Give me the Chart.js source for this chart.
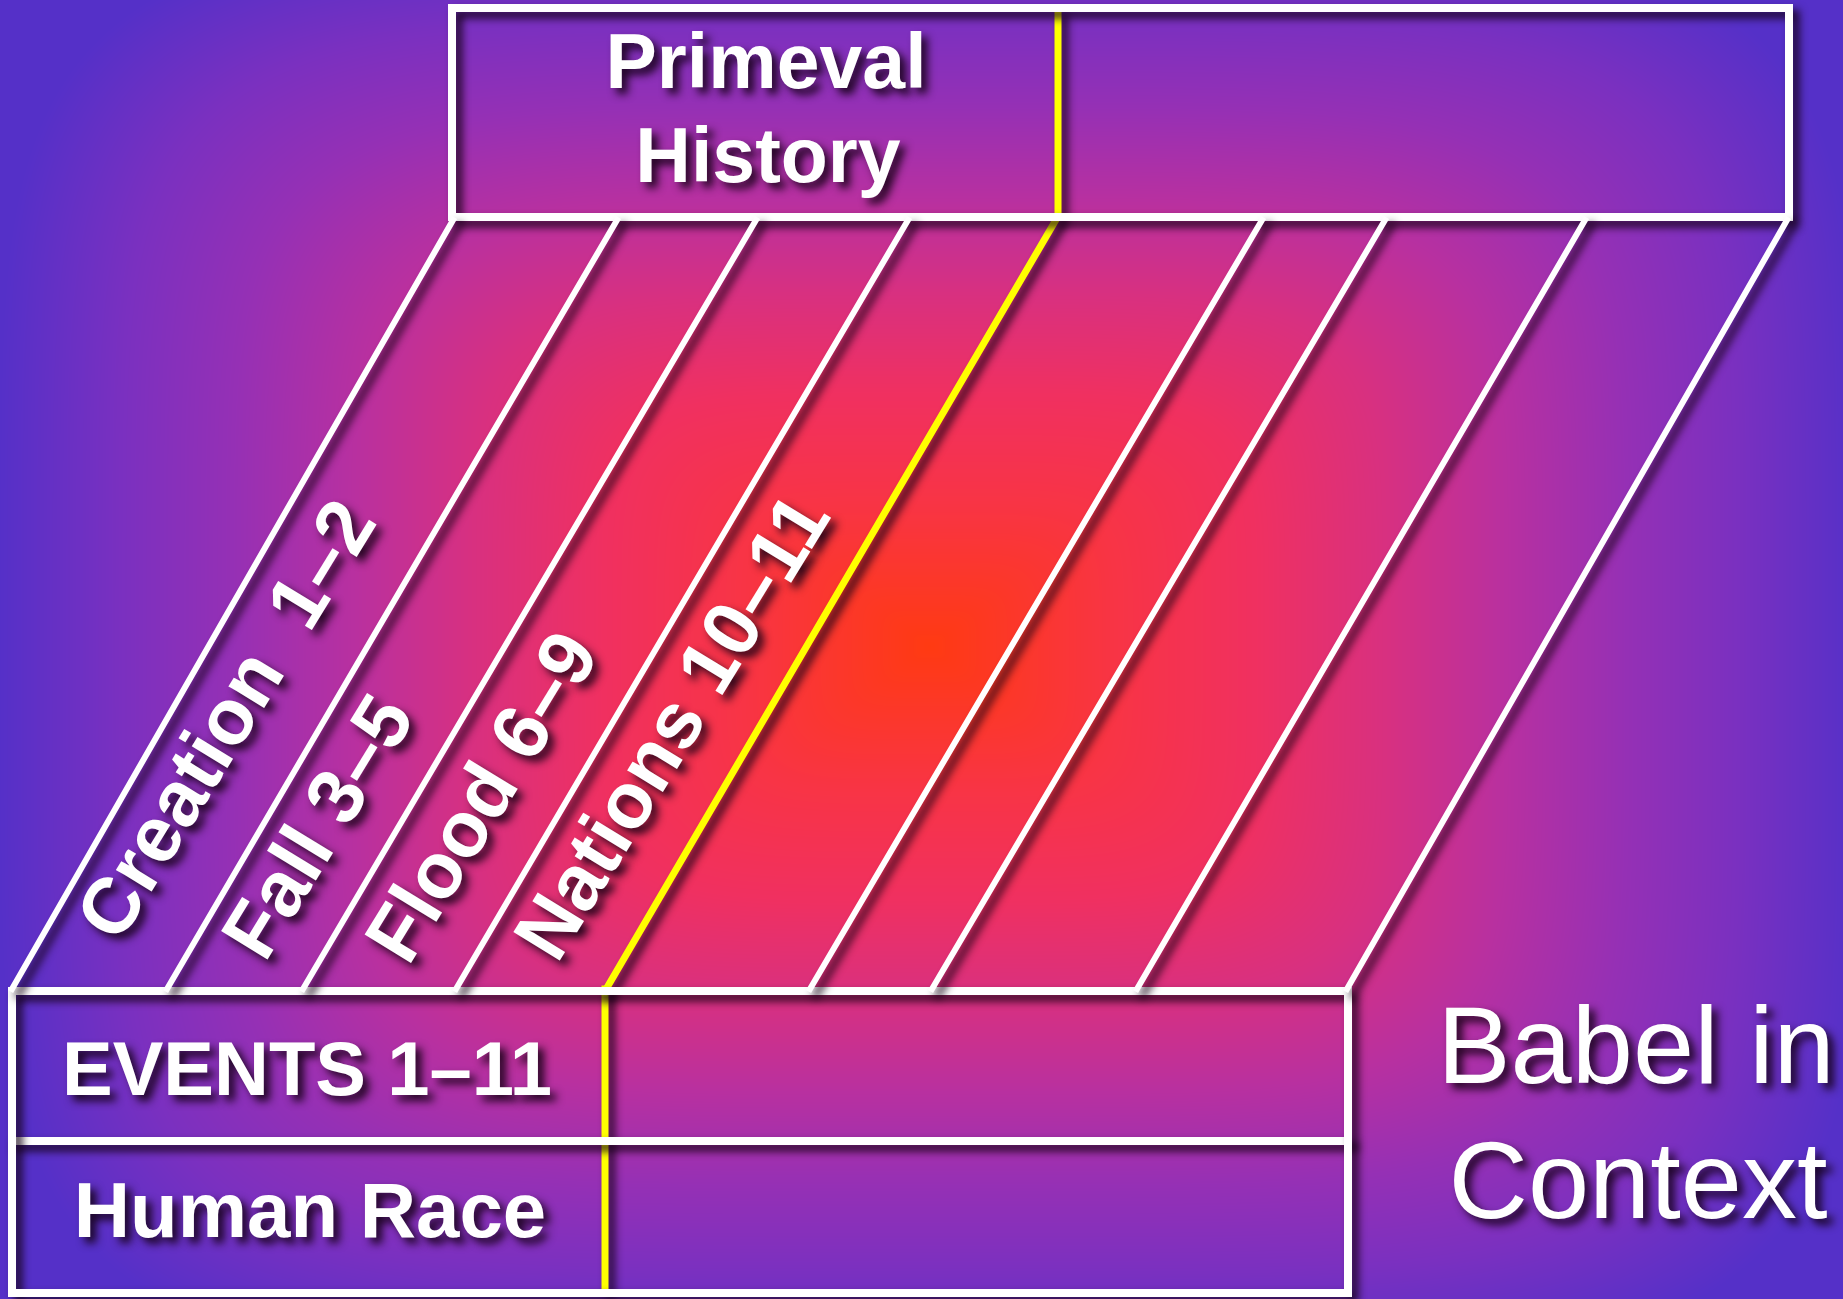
<!DOCTYPE html>
<html>
<head>
<meta charset="utf-8">
<style>
  html, body { margin: 0; padding: 0; background: #5532c8; }
  #wrap { width: 1843px; height: 1299px; position: relative; }
</style>
<script src="https://cdn.jsdelivr.net/npm/chart.js@4.4.1/dist/chart.umd.min.js"></script>
</head>
<body>
<div id="wrap"><canvas id="babel"></canvas></div>
<script>
// diagram units (x: 0..1843 left to right, y: 0..1299 top to bottom)
const bandBottomX = [12, 167, 303, 456, 605, 810, 932, 1137, 1347];
const bandTopX = [453, 617, 756, 908, 1057, 1262, 1385, 1585, 1787];
const bandBottomY = 989;
const bandTopY = 220;
const highlightBand = 4;

const topBoxX = [452, 1789];
const topBoxY = [8, 217];
const topDividerX = 1058;

const bottomBoxX = [12, 1348];
const bottomBoxY = [991, 1293];
const rowDividerY = 1141;
const bottomDividerX = 605;

const headingLines = ['Primeval', 'History'];
const rowLabels = ['EVENTS 1–11', 'Human Race'];
const titleLines = ['Babel in', 'Context'];
const bandLabels = ['Creation  1–2', 'Fall 3–5', 'Flood 6–9', 'Nations 10–11'];
const bandLabelX = [230, 322, 486, 676];
const bandLabelY = [722, 829, 799, 729];

// background glow: centre, reach, colour stops
const glowCentre = [929, 646];
const glowReach = [930, 720];
const glowStops = [0, 0.2, 0.35, 0.49, 0.62, 0.75, 0.87, 1];
const glowColours = ['#ff3a12', '#f83445', '#f03060', '#d83080', '#b830a0', '#9530b5', '#7a30c0', '#5530c8'];

const WHITE = '#ffffff';
const YELLOW = '#ffff00';

function seg(x1, y1, x2, y2) {
  return [{ x: x1, y: y1 }, { x: x2, y: y2 }];
}

function rect(xs, ys) {
  return [
    { x: xs[0], y: ys[0] }, { x: xs[1], y: ys[0] },
    { x: xs[1], y: ys[1] }, { x: xs[0], y: ys[1] },
    { x: xs[0], y: ys[0] }
  ];
}

const datasets = [];

bandBottomX.forEach((bx, i) => {
  if (i === highlightBand) return;
  datasets.push({ data: seg(bx, bandBottomY, bandTopX[i], bandTopY), borderColor: WHITE, borderWidth: 6 });
});

datasets.push({ data: rect(topBoxX, topBoxY), borderColor: WHITE, borderWidth: 8 });
datasets.push({ data: rect(bottomBoxX, bottomBoxY), borderColor: WHITE, borderWidth: 8 });
datasets.push({ data: seg(bottomBoxX[0], rowDividerY, bottomBoxX[1], rowDividerY), borderColor: WHITE, borderWidth: 8 });

datasets.push({
  data: seg(bandBottomX[highlightBand], bandBottomY + 2, bandTopX[highlightBand], bandTopY - 2),
  borderColor: YELLOW, borderWidth: 7
});
datasets.push({ data: seg(topDividerX, topBoxY[0] + 4, topDividerX, topBoxY[1] - 4), borderColor: YELLOW, borderWidth: 7 });
datasets.push({ data: seg(bottomDividerX, bottomBoxY[0] - 2, bottomDividerX, bottomBoxY[1] - 4), borderColor: YELLOW, borderWidth: 7 });

datasets.forEach(d => {
  d.showLine = true;
  d.pointRadius = 0;
  d.fill = false;
  d.borderCapStyle = 'square';
  d.borderJoinStyle = 'miter';
});

function hexRgb(h) {
  const n = parseInt(h.slice(1), 16);
  return [(n >> 16) & 255, (n >> 8) & 255, n & 255];
}

// rounded-rectangle style glow, like a "from centre" path fill
const backdrop = {
  id: 'backdrop',
  beforeDraw(chart) {
    const { ctx, width, height } = chart;
    const xs = chart.scales.x, ys = chart.scales.y;
    const cx = xs.getPixelForValue(glowCentre[0]);
    const cy = ys.getPixelForValue(glowCentre[1]);
    const rx = xs.getPixelForValue(glowCentre[0] + glowReach[0]) - cx;
    const ry = ys.getPixelForValue(glowCentre[1] + glowReach[1]) - cy;
    const cols = glowColours.map(hexRgb);
    const off = document.createElement('canvas');
    off.width = width;
    off.height = height;
    const octx = off.getContext('2d');
    const img = octx.createImageData(width, height);
    const p = 5;
    for (let y = 0; y < height; y++) {
      const dy = Math.pow(Math.abs(y - cy) / ry, p);
      for (let x = 0; x < width; x++) {
        const dx = Math.pow(Math.abs(x - cx) / rx, p);
        let t = Math.pow(dx + dy, 1 / p);
        if (t > 1) t = 1;
        let k = 1;
        while (k < glowStops.length - 1 && glowStops[k] < t) k++;
        const f = (t - glowStops[k - 1]) / (glowStops[k] - glowStops[k - 1]);
        const a = cols[k - 1], b = cols[k];
        const o = (y * width + x) * 4;
        img.data[o] = a[0] + (b[0] - a[0]) * f;
        img.data[o + 1] = a[1] + (b[1] - a[1]) * f;
        img.data[o + 2] = a[2] + (b[2] - a[2]) * f;
        img.data[o + 3] = 255;
      }
    }
    octx.putImageData(img, 0, 0);
    ctx.drawImage(off, 0, 0);
  }
};

function shadow(ctx) {
  ctx.shadowColor = 'rgba(20, 0, 20, 0.9)';
  ctx.shadowBlur = 8;
  ctx.shadowOffsetX = 6;
  ctx.shadowOffsetY = 6;
}

const shadows = {
  id: 'shadows',
  beforeDatasetDraw(chart) {
    chart.ctx.save();
    shadow(chart.ctx);
  },
  afterDatasetDraw(chart) {
    chart.ctx.restore();
  }
};

const labels = {
  id: 'labels',
  afterDatasetsDraw(chart) {
    const { ctx } = chart;
    const sx = v => chart.scales.x.getPixelForValue(v);
    const sy = v => chart.scales.y.getPixelForValue(v);
    ctx.save();
    shadow(ctx);
    ctx.fillStyle = '#ffffff';
    ctx.textAlign = 'center';
    ctx.textBaseline = 'alphabetic';

    ctx.font = 'bold 77px "Liberation Sans", Arial, sans-serif';
    ctx.fillText(headingLines[0], sx(766), sy(88));
    ctx.fillText(headingLines[1], sx(768), sy(182));

    ctx.font = 'bold 76px "Liberation Sans", Arial, sans-serif';
    ctx.fillText(rowLabels[0], sx(307), sy(1095));
    ctx.font = 'bold 78px "Liberation Sans", Arial, sans-serif';
    ctx.fillText(rowLabels[1], sx(310), sy(1237));

    ctx.font = '110px "Liberation Sans", Arial, sans-serif';
    ctx.fillText(titleLines[0], sx(1636), sy(1083));
    ctx.fillText(titleLines[1], sx(1638), sy(1218));

    ctx.font = 'bold 79px "Liberation Sans", Arial, sans-serif';
    ctx.textBaseline = 'middle';
    bandLabels.forEach((t, i) => {
      ctx.save();
      ctx.translate(sx(bandLabelX[i]), sy(bandLabelY[i]));
      ctx.rotate(-58.5 * Math.PI / 180);
      ctx.fillText(t, 0, 0);
      ctx.restore();
    });
    ctx.restore();
  }
};

new Chart(document.getElementById('babel'), {
  type: 'scatter',
  data: { datasets },
  options: {
    responsive: true,
    maintainAspectRatio: false,
    animation: false,
    layout: { padding: 0 },
    plugins: { legend: { display: false }, tooltip: { enabled: false } },
    scales: {
      x: { type: 'linear', min: 0, max: 1843, display: false },
      y: { type: 'linear', min: 0, max: 1299, reverse: true, display: false }
    }
  },
  plugins: [backdrop, shadows, labels]
});
</script>
</body>
</html>
